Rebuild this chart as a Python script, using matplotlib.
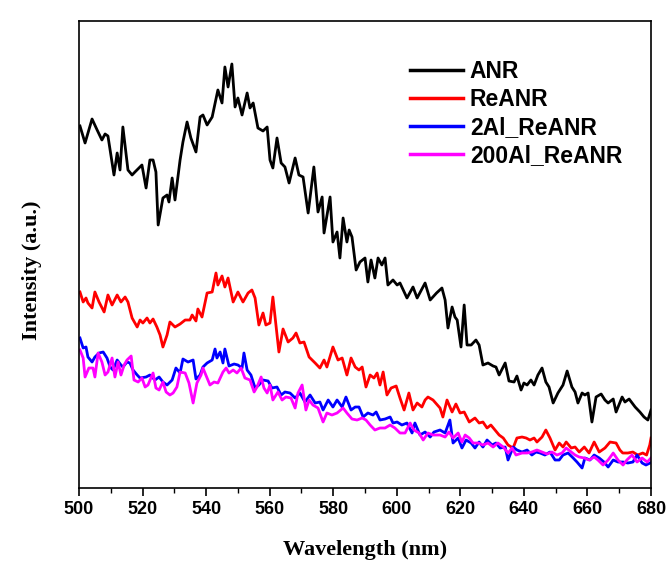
import matplotlib
matplotlib.use("Agg")
import matplotlib.pyplot as plt
from matplotlib.ticker import MultipleLocator

# emission spectra, intensity in arbitrary units
anr_wl = [500.3, 501.9, 504.1, 505.7, 507.2, 508.2, 509.1, 511.0, 512.0, 512.9, 513.8, 515.4, 516.7, 517.6,
          519.8, 521.1, 522.3, 523.3, 524.2, 524.9, 526.4, 527.7, 528.3, 529.3, 530.2, 531.8, 532.7, 534.0,
          535.2, 536.8, 538.1, 539.0, 540.3, 541.9, 543.7, 545.0, 545.9, 546.9, 548.1, 549.1, 550.0, 551.3,
          552.9, 553.8, 554.8, 556.3, 557.9, 559.2, 560.1, 561.0, 562.3, 563.6, 564.8, 566.1, 568.0, 569.2,
          570.5, 572.1, 573.9, 575.2, 576.5, 577.1, 579.0, 579.9, 581.2, 582.1, 583.1, 584.3, 585.0, 585.9,
          587.2, 588.4, 590.0, 590.9, 591.9, 593.1, 594.1, 595.3, 596.3, 597.2, 598.8, 600.1, 601.0, 603.2,
          605.1, 606.4, 608.9, 610.5, 612.5, 614.2, 615.2, 616.1, 617.4, 618.3, 619.0, 620.2, 621.2, 622.1,
          623.4, 624.9, 625.9, 627.1, 628.7, 630.3, 631.2, 632.2, 634.1, 635.3, 636.9, 637.8, 639.1, 640.0,
          641.0, 642.2, 643.2, 644.4, 645.7, 646.9, 647.9, 649.2, 650.7, 652.3, 653.6, 655.1, 656.1, 657.0,
          658.3, 659.2, 660.2, 661.4, 662.7, 664.3, 665.5, 666.5, 668.1, 669.0, 670.9, 671.8, 673.1, 675.0,
          676.5, 677.8, 679.0, 680.0]
anr = [362, 345, 369, 358, 348, 354, 352, 313, 335, 318, 361, 318, 313, 316,
       323, 300, 328, 328, 316, 263, 290, 293, 286, 310, 288, 328, 346, 366,
       350, 336, 371, 373, 363, 371, 398, 385, 421, 401, 424, 381, 390, 373,
       395, 380, 385, 360, 357, 361, 328, 320, 350, 325, 321, 305, 330, 313,
       311, 275, 321, 276, 291, 255, 291, 246, 256, 230, 270, 246, 258, 251,
       218, 226, 230, 206, 228, 210, 230, 223, 230, 203, 208, 203, 205, 190,
       201, 190, 205, 188, 195, 200, 188, 160, 181, 171, 168, 141, 183, 143,
       143, 148, 143, 123, 125, 122, 121, 113, 125, 107, 106, 112, 98, 105,
       103, 108, 103, 113, 120, 106, 101, 85, 95, 103, 117, 101, 96, 85,
       95, 93, 95, 66, 91, 94, 88, 85, 89, 76, 91, 86, 89, 81,
       76, 71, 68, 78]

reanr_wl = [500.3, 501.3, 502.2, 502.8, 504.1, 505.0, 506.3, 507.9, 509.1, 510.4, 512.0, 513.2, 514.5, 515.4,
            516.7, 518.3, 519.2, 520.1, 521.4, 522.3, 523.3, 524.5, 525.5, 526.4, 527.7, 528.6, 530.2, 531.8,
            533.4, 534.9, 535.6, 536.8, 537.4, 538.7, 540.3, 541.9, 543.1, 543.7, 545.0, 545.9, 546.9, 548.5,
            550.0, 551.6, 553.2, 554.4, 555.4, 556.6, 557.9, 558.8, 560.1, 561.0, 562.9, 564.2, 565.8, 567.3,
            568.3, 569.5, 570.8, 572.4, 574.3, 575.8, 577.1, 578.0, 579.9, 581.5, 582.8, 584.3, 585.6, 586.9,
            588.1, 589.1, 590.3, 591.6, 592.8, 593.8, 594.7, 595.7, 596.9, 598.2, 599.8, 601.0, 602.3, 603.8,
            605.1, 606.4, 607.9, 608.9, 609.8, 611.4, 613.6, 614.5, 615.8, 617.4, 618.6, 619.9, 621.2, 622.8,
            624.6, 625.9, 627.1, 628.4, 629.6, 630.9, 632.2, 633.5, 635.0, 636.6, 637.8, 639.4, 640.7, 641.9,
            643.2, 644.1, 645.7, 646.9, 648.2, 649.8, 651.1, 652.3, 653.3, 654.9, 656.1, 657.4, 659.0, 660.5,
            662.1, 663.7, 665.5, 667.1, 669.0, 670.2, 671.1, 672.7, 674.3, 675.8, 677.4, 678.6, 679.6, 680.0]
reanr = [196, 186, 190, 185, 180, 196, 186, 176, 193, 183, 193, 186, 191, 186,
         170, 161, 168, 165, 170, 165, 169, 161, 153, 141, 153, 166, 161, 164,
         168, 168, 173, 167, 179, 171, 195, 196, 215, 203, 212, 201, 210, 186,
         196, 186, 195, 198, 190, 163, 175, 163, 165, 191, 136, 159, 146, 150,
         155, 145, 146, 131, 125, 120, 128, 121, 141, 128, 130, 113, 130, 121,
         118, 121, 101, 113, 110, 115, 103, 116, 93, 100, 102, 90, 78, 95,
         78, 85, 81, 88, 91, 88, 80, 71, 88, 76, 84, 75, 76, 66,
         70, 65, 66, 60, 63, 58, 53, 50, 43, 40, 50, 51, 50, 48,
         50, 46, 51, 58, 50, 38, 45, 41, 46, 40, 41, 36, 41, 35,
         46, 36, 40, 46, 45, 38, 35, 35, 36, 33, 35, 33, 43, 50]

al2_wl = [500.3, 501.3, 502.2, 502.8, 504.1, 505.0, 506.3, 507.6, 508.8, 509.8, 510.7, 512.0, 513.2, 513.8,
          515.1, 516.0, 517.0, 518.3, 519.2, 521.1, 522.3, 523.9, 525.2, 526.4, 527.7, 529.3, 530.5, 531.8,
          532.7, 534.3, 535.9, 536.8, 538.1, 539.0, 540.3, 541.9, 542.8, 543.4, 544.4, 545.3, 545.9, 547.2,
          548.8, 550.0, 551.3, 551.9, 552.9, 554.1, 555.4, 556.6, 557.9, 559.5, 560.7, 562.3, 563.6, 564.8,
          566.4, 568.0, 569.5, 571.1, 572.7, 574.3, 575.8, 576.8, 578.4, 579.9, 581.2, 582.8, 584.0, 585.6,
          586.9, 588.1, 589.4, 590.9, 592.5, 593.5, 594.7, 596.3, 597.9, 598.8, 600.1, 601.6, 603.2, 604.8,
          605.7, 607.3, 608.9, 610.5, 611.7, 613.6, 615.2, 616.7, 617.7, 619.3, 620.5, 621.8, 623.4, 624.6,
          625.9, 627.1, 628.4, 630.0, 631.2, 632.5, 634.1, 635.0, 636.6, 637.8, 639.4, 641.0, 642.5, 643.8,
          645.1, 646.6, 648.2, 649.8, 651.1, 652.3, 653.9, 655.5, 656.7, 658.3, 659.2, 660.8, 662.1, 663.7,
          665.2, 666.5, 668.1, 669.6, 671.2, 672.7, 674.3, 675.6, 677.2, 678.4, 679.7]
al2 = [150, 140, 141, 131, 126, 131, 135, 136, 130, 121, 118, 128, 123, 121,
       126, 125, 118, 113, 110, 111, 113, 108, 111, 106, 103, 108, 120, 115,
       129, 126, 128, 109, 113, 121, 125, 128, 139, 130, 136, 125, 139, 122,
       124, 123, 120, 135, 118, 113, 100, 103, 108, 107, 100, 101, 93, 96,
       95, 90, 95, 86, 93, 85, 86, 78, 88, 81, 88, 81, 91, 78,
       81, 81, 71, 75, 73, 76, 68, 69, 71, 65, 66, 63, 65, 55,
       65, 53, 56, 51, 56, 58, 55, 68, 45, 50, 40, 48, 45, 40,
       46, 41, 48, 43, 45, 40, 41, 28, 41, 38, 36, 38, 33, 36,
       35, 33, 36, 28, 28, 33, 35, 30, 26, 20, 30, 28, 33, 30,
       26, 21, 28, 26, 26, 25, 26, 33, 25, 23, 25]

al200_wl = [500.3, 501.3, 501.9, 503.1, 504.4, 505.0, 506.0, 507.2, 508.2, 509.1, 510.4, 511.3, 512.3, 513.2,
            514.2, 515.1, 516.4, 517.3, 518.6, 519.8, 520.8, 521.7, 523.3, 524.2, 525.2, 526.4, 527.4, 528.6,
            529.6, 530.8, 531.8, 533.4, 534.6, 535.9, 537.1, 538.4, 539.0, 540.3, 541.2, 542.5, 543.7, 545.3,
            546.3, 547.2, 548.5, 549.7, 551.0, 552.2, 553.8, 555.1, 556.0, 557.3, 558.2, 559.2, 560.1, 561.0,
            562.6, 563.9, 565.1, 566.7, 568.0, 568.9, 570.2, 571.4, 572.4, 573.6, 575.2, 576.8, 578.0, 579.6,
            581.2, 583.1, 584.3, 585.9, 587.5, 589.1, 590.3, 591.6, 593.1, 594.7, 596.3, 597.9, 599.4, 601.0,
            602.6, 604.2, 605.4, 607.0, 608.3, 609.8, 611.4, 613.6, 615.2, 616.4, 617.7, 619.3, 620.5, 621.5,
            622.8, 624.0, 625.6, 627.1, 628.7, 630.3, 631.8, 633.5, 635.0, 636.3, 637.5, 639.4, 641.0, 642.5,
            644.1, 645.7, 647.3, 648.8, 650.4, 652.0, 653.3, 654.9, 656.1, 657.4, 659.0, 660.5, 662.1, 663.3,
            664.9, 666.5, 668.1, 669.6, 671.2, 672.4, 674.0, 675.6, 677.2, 678.8, 680.0]
al200 = [138, 130, 111, 120, 120, 111, 135, 126, 113, 116, 130, 111, 126, 113,
         123, 128, 132, 108, 106, 110, 101, 103, 115, 100, 98, 106, 96, 93,
         95, 101, 116, 115, 105, 85, 105, 113, 120, 110, 103, 106, 105, 116,
         120, 115, 118, 115, 120, 110, 108, 96, 101, 111, 100, 95, 103, 88,
         96, 88, 91, 90, 80, 95, 103, 78, 88, 83, 80, 66, 75, 73,
         75, 80, 75, 69, 68, 70, 68, 63, 58, 60, 60, 63, 60, 55,
         55, 65, 58, 55, 48, 55, 53, 53, 51, 56, 50, 55, 46, 53,
         50, 45, 45, 43, 45, 41, 45, 41, 35, 40, 33, 35, 35, 36,
         38, 36, 34, 36, 33, 35, 40, 36, 33, 31, 30, 28, 31, 28,
         23, 28, 35, 28, 23, 28, 33, 26, 30, 26, 30]

series = [(anr_wl, anr, "ANR", "black"),
          (reanr_wl, reanr, "ReANR", "#ff0000"),
          (al2_wl, al2, "2Al_ReANR", "#0000ff"),
          (al200_wl, al200, "200Al_ReANR", "#ff00ff")]

fig = plt.figure(figsize=(6.68, 5.61), dpi=100)
ax = fig.add_axes([0.1183, 0.1301, 0.8563, 0.8325])

for wl, inten, name, col in series:
    ax.plot(wl, inten, color=col, lw=2.0, label=name)

ax.set_xlim(500, 680)
ax.set_ylim(0, 467)
ax.xaxis.set_major_locator(MultipleLocator(20))
ax.xaxis.set_minor_locator(MultipleLocator(10))
ax.tick_params(axis="x", which="major", direction="out", length=6, width=1.2, top=False)
ax.tick_params(axis="x", which="minor", direction="out", length=3.5, width=1.0, top=False)
ax.set_yticks([])
for lab in ax.get_xticklabels():
    lab.set_fontfamily("Liberation Sans")
    lab.set_fontweight("bold")
    lab.set_fontsize(13)
for sp in ax.spines.values():
    sp.set_linewidth(1.2)

ax.set_xlabel("Wavelength (nm)", fontfamily="Liberation Serif", fontweight="bold", fontsize=16)
ax.set_ylabel("Intensity (a.u.)", fontfamily="Liberation Serif", fontweight="bold", fontsize=16)
ax.xaxis.set_label_coords(0.5, -0.112)
ax.yaxis.set_label_coords(-0.065, 0.467)

leg = ax.legend(loc="upper left", bbox_to_anchor=(0.563, 0.937), frameon=False,
                prop={"family": "Liberation Sans", "weight": "bold", "size": 16.5},
                handlelength=2.3, handletextpad=0.3, labelspacing=0.23, borderaxespad=0)
for h in leg.get_lines():
    h.set_linewidth(2.5)

fig.savefig("out.png", dpi=100, facecolor="white")
